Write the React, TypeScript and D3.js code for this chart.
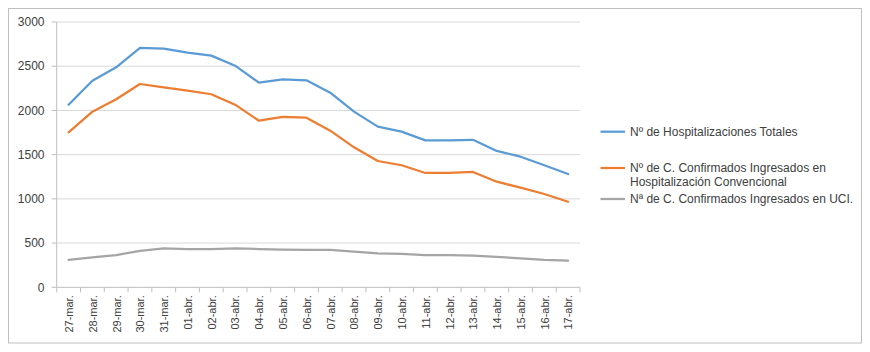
import React from "react";
import * as d3 from "d3";

const categories = [
  "27-mar.", "28-mar.", "29-mar.", "30-mar.", "31-mar.",
  "01-abr.", "02-abr.", "03-abr.", "04-abr.", "05-abr.", "06-abr.", "07-abr.",
  "08-abr.", "09-abr.", "10-abr.", "11-abr.", "12-abr.", "13-abr.", "14-abr.",
  "15-abr.", "16-abr.", "17-abr.",
];

const totales = [2065, 2335, 2488, 2707, 2699, 2654, 2620, 2506, 2314, 2352, 2341, 2201,
  1986, 1817, 1760, 1662, 1662, 1668, 1542, 1477, 1380, 1281];

const convencional = [1753, 1986, 2126, 2299, 2262, 2224, 2183, 2065, 1884, 1926, 1918, 1771,
  1583, 1428, 1380, 1293, 1293, 1304, 1194, 1127, 1055, 968];

const uci = [309, 339, 365, 411, 441, 433, 433, 441, 433, 425, 422, 422,
  403, 385, 377, 365, 365, 357, 343, 328, 309, 301];

const yTicks = [0, 500, 1000, 1500, 2000, 2500, 3000];

const seriesNames = [
  ["Nº de Hospitalizaciones Totales"],
  ["Nº de C. Confirmados Ingresados en", "Hospitalización Convencional"],
  ["Nª de C. Confirmados Ingresados en UCI."],
];
const colors = ["#5B9BD5", "#ED7D31", "#A5A5A5"];

export default function App() {
  const W = 870, H = 352;
  const left = 56.7, right = 580, top = 22, bottom = 287.3;
  const x = d3.scaleBand<string>().domain(categories).range([left, right]);
  const y = d3.scaleLinear().domain([0, 3000]).range([bottom, top]);
  const line = d3.line<number>()
    .x((_, i) => (x(categories[i]) as number) + x.bandwidth() / 2)
    .y((d) => y(d));
  const series = [totales, convencional, uci];
  const font = "'Liberation Sans', Arial, sans-serif";
  const legendY = [131.7, 168, 199];

  return (
    <svg width={W} height={H} style={{ position: "absolute", left: 0, top: 0, background: "#fff" }}
      fontFamily={font}>
      <rect x={8.5} y={8.5} width={853} height={334.5} fill="#fff" stroke="#bfbfbf" />
      {yTicks.map((t) => (
        <g key={t}>
          {t > 0 && <line x1={left} x2={right} y1={y(t)} y2={y(t)} stroke="#d9d9d9" strokeWidth={1} />}
          <line x1={left - 5} x2={left} y1={y(t)} y2={y(t)} stroke="#bfbfbf" />
          <text x={44.5} y={y(t)} dy="0.35em" textAnchor="end" fontSize={12} fill="#404040">{t}</text>
        </g>
      ))}
      <line x1={left} x2={left} y1={top} y2={bottom} stroke="#bfbfbf" />
      <line x1={left} x2={right} y1={bottom} y2={bottom} stroke="#bfbfbf" />
      {categories.map((c, i) => {
        const xt = x(c) as number;
        const xc = xt + x.bandwidth() / 2;
        return (
          <g key={c}>
            <line x1={xt} x2={xt} y1={bottom} y2={bottom + 5} stroke="#bfbfbf" />
            {i === categories.length - 1 && (
              <line x1={right} x2={right} y1={bottom} y2={bottom + 5} stroke="#bfbfbf" />
            )}
            <text transform={`translate(${xc + 0.5},${bottom + 8}) rotate(-90)`} textAnchor="end"
              dy="0.35em" fontSize={11} fill="#404040">{c}</text>
          </g>
        );
      })}
      {series.map((s, k) => (
        <path key={k} d={line(s) as string} fill="none" stroke={colors[k]} strokeWidth={2.25}
          strokeLinejoin="round" strokeLinecap="round" />
      ))}
      {seriesNames.map((lines, k) => (
        <g key={k}>
          <line x1={600.5} x2={625} y1={legendY[k]} y2={legendY[k]} stroke={colors[k]} strokeWidth={2.25} />
          {lines.map((t, j) => (
            <text key={j} x={630} y={legendY[k] + j * 14} dy="0.35em" fontSize={12} fill="#404040">{t}</text>
          ))}
        </g>
      ))}
    </svg>
  );
}
